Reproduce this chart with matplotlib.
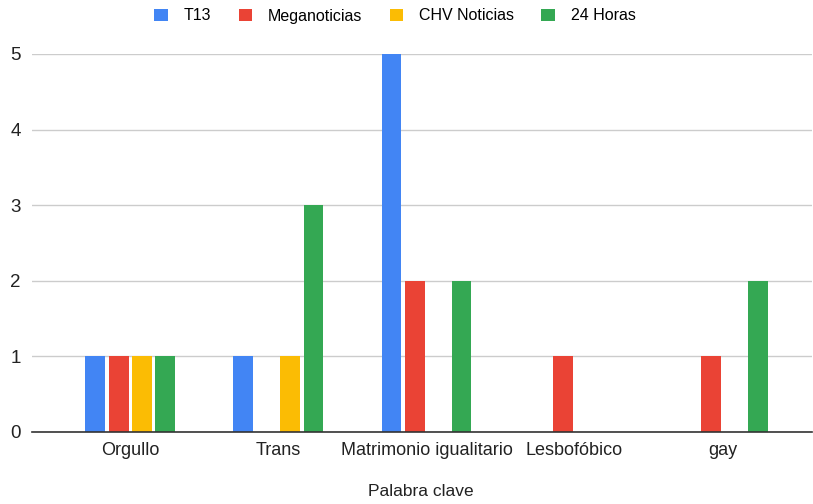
import matplotlib.pyplot as plt
import numpy as np
from matplotlib.patches import Patch

plt.rcParams['font.family'] = ['Liberation Sans', 'DejaVu Sans']

categories = ['Orgullo', 'Trans', 'Matrimonio igualitario', 'Lesbofóbico', 'gay']
series = ['T13', 'Meganoticias', 'CHV Noticias', '24 Horas']
t13 = [1, 1, 5, 0, 0]
meganoticias = [1, 0, 2, 1, 1]
chv = [1, 1, 0, 0, 0]
horas24 = [1, 3, 2, 0, 2]
colors = ['#4285F4', '#EA4335', '#FBBC04', '#34A853']

values = [t13, meganoticias, chv, horas24]

fig = plt.figure(figsize=(8.13, 5.04), dpi=100)
ax = fig.add_axes([32 / 813, 1 - 432 / 504, (812 - 32) / 813, (432 - 54) / 504])

x = np.arange(len(categories))
w = 20 / 149
step = 23.5 / 149
for i, (vals, c) in enumerate(zip(values, colors)):
    ax.bar(x + (i - 1.5) * step, vals, width=w, color=c, zorder=3)

ax.set_xlim(-(131 - 32) / 149, 4 + (812 - 722) / 149)
ax.set_ylim(0, 5)
ax.set_yticks(range(6))
ax.set_xticks(x)
ax.set_xticklabels(categories)
ax.grid(axis='y', color='#cccccc', linewidth=1, zorder=0)
for s in ['top', 'right', 'left']:
    ax.spines[s].set_visible(False)
ax.spines['bottom'].set_color('#333333')
ax.spines['bottom'].set_linewidth(1.2)
ax.spines['bottom'].set_zorder(4)
ax.tick_params(axis='both', length=0, labelsize=13, colors='#222222')
ax.tick_params(axis='x', pad=7)
ax.tick_params(axis='y', pad=12)
for lbl in ax.get_yticklabels():
    lbl.set_fontsize(13.5)
    lbl.set_horizontalalignment('center')

# axis title sits close to the bottom edge, as in the reference
fig.text(421 / 813, 1 - 491 / 504, 'Palabra clave', fontsize=12.5, color='#222222',
         ha='center', va='center')

handles = [Patch(facecolor=c, label=s) for s, c in zip(series, colors)]
fig.legend(handles=handles, loc='center', bbox_to_anchor=(395 / 813, 1 - 16 / 504),
           ncol=4, frameon=False, fontsize=11.5, handlelength=0.85, handleheight=0.85,
           columnspacing=1.7, handletextpad=1.0)

fig.savefig('out.png', dpi=100)
